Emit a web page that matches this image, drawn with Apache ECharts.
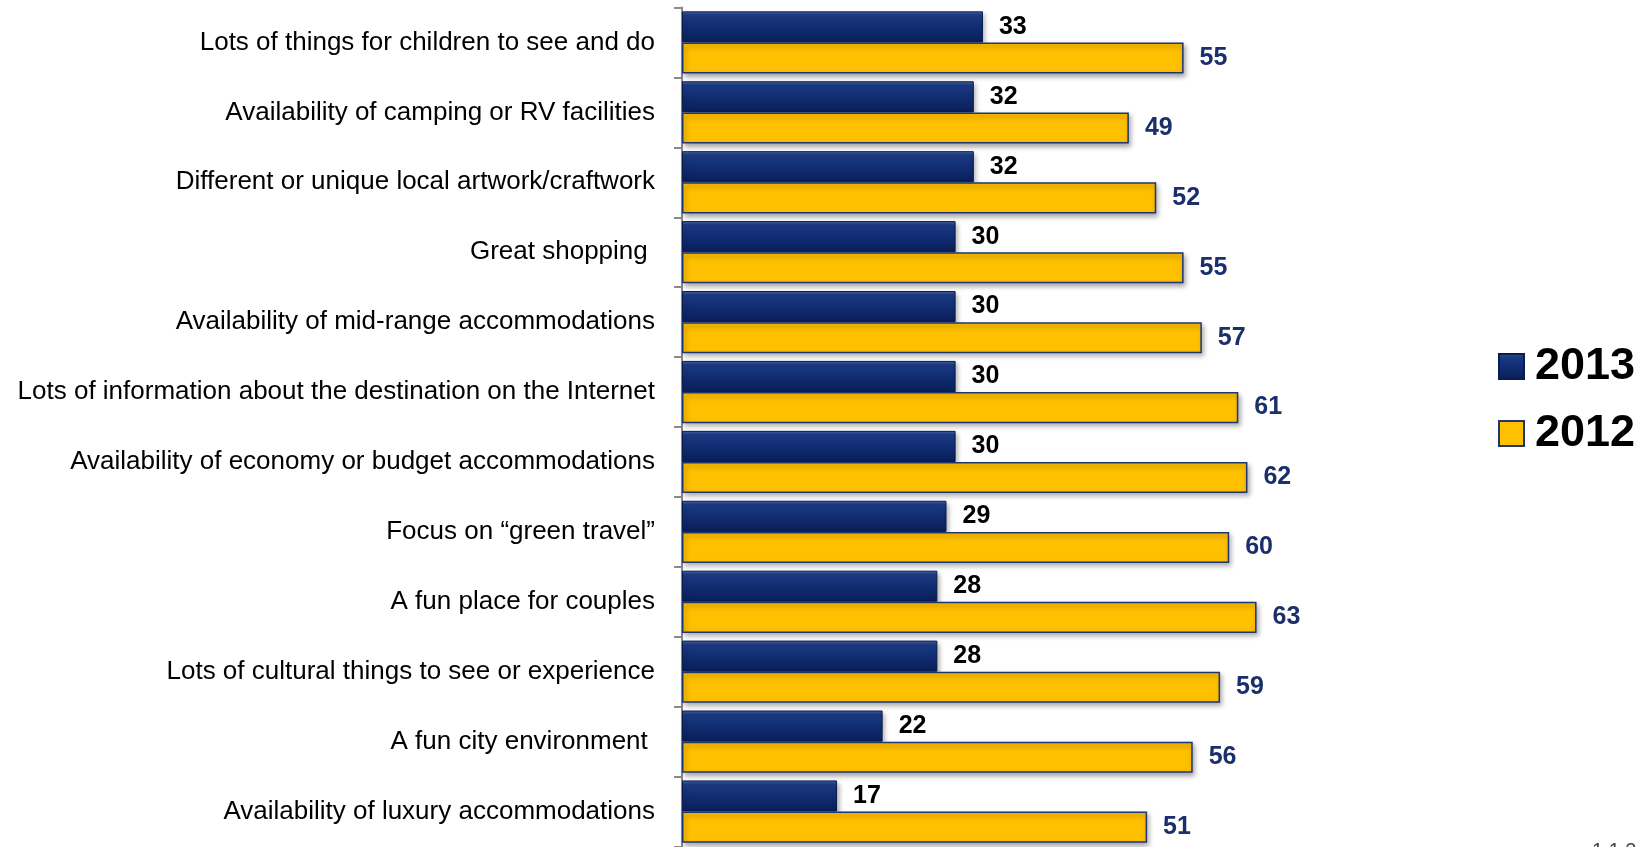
<!DOCTYPE html>
<html>
<head>
<meta charset="utf-8">
<script src="https://cdn.jsdelivr.net/npm/echarts@6/dist/echarts.min.js"></script>
<style>
  html, body { margin: 0; padding: 0; background: #fff; }
  #source { width: 1648px; height: 847px; }
</style>
</head>
<body>
<div id="source"></div>
<script>
var categories = [
  'Lots of things for children to see and do',
  'Availability of camping or RV facilities',
  'Different or unique local artwork/craftwork',
  'Great shopping ',
  'Availability of mid-range accommodations',
  'Lots of information about the destination on the Internet',
  'Availability of economy or budget accommodations',
  'Focus on \u201cgreen travel\u201d',
  'A fun place for couples',
  'Lots of cultural things to see or experience',
  'A fun city environment ',
  'Availability of luxury accommodations'
];
var values2013 = [33, 32, 32, 30, 30, 30, 30, 29, 28, 28, 22, 17];
var values2012 = [55, 49, 52, 55, 57, 61, 62, 60, 63, 59, 56, 51];

var dom = document.getElementById('source');
var myChart = echarts.init(dom, null, { renderer: 'canvas' });

var navyGradient = new echarts.graphic.LinearGradient(0, 0, 0, 1, [
  { offset: 0, color: '#4a68a8' },
  { offset: 0.12, color: '#1d3c86' },
  { offset: 0.5, color: '#112d72' },
  { offset: 1, color: '#0a1f58' }
]);

var option = {
  animation: false,
  grid: {
    left: 682,
    top: 7.5,
    height: 839,
    width: 912
  },
  legend: {
    orient: 'vertical',
    left: 1493,
    top: 339,
    itemWidth: 25,
    itemHeight: 25,
    itemGap: 22,
    icon: 'rect',
    textStyle: {
      fontFamily: 'Arial, "Liberation Sans", sans-serif',
      fontSize: 45,
      fontWeight: 'bold',
      color: '#000',
      padding: [0, 0, 0, 6]
    },
    data: ['2013', '2012']
  },
  xAxis: {
    type: 'value',
    min: 0,
    max: 100,
    show: false
  },
  yAxis: {
    type: 'category',
    inverse: true,
    data: categories,
    axisLine: { show: true, lineStyle: { color: '#8a8a8a', width: 2 } },
    axisTick: { show: true, length: 8, lineStyle: { color: '#8a8a8a', width: 2 } },
    axisLabel: {
      margin: 27,
      fontFamily: 'Arial, "Liberation Sans", sans-serif',
      fontSize: 26,
      color: '#000'
    }
  },
  series: [
    {
      name: '2013',
      type: 'bar',
      data: values2013,
      barGap: '0%',
      barCategoryGap: '11%',
      itemStyle: {
        color: navyGradient,
        borderColor: '#0a1d4e',
        borderWidth: 1,
        shadowColor: 'rgba(0,0,0,0.35)',
        shadowBlur: 5,
        shadowOffsetX: 2,
        shadowOffsetY: 3
      },
      label: {
        show: true,
        position: 'right',
        distance: 16,
        fontFamily: 'Arial, "Liberation Sans", sans-serif',
        fontSize: 25,
        fontWeight: 'bold',
        color: '#000'
      }
    },
    {
      name: '2012',
      type: 'bar',
      data: values2012,
      itemStyle: {
        color: '#ffc000',
        borderColor: '#1f3673',
        borderWidth: 1.5,
        shadowColor: 'rgba(0,0,0,0.35)',
        shadowBlur: 5,
        shadowOffsetX: 2,
        shadowOffsetY: 3
      },
      label: {
        show: true,
        position: 'right',
        distance: 16,
        fontFamily: 'Arial, "Liberation Sans", sans-serif',
        fontSize: 25,
        fontWeight: 'bold',
        color: '#1a2f6b'
      }
    }
  ],
  graphic: [
    {
      type: 'text',
      left: 1592,
      top: 841,
      style: {
        text: '1 1 2',
        fontFamily: 'Arial, sans-serif',
        fontSize: 20,
        fill: '#444'
      }
    }
  ]
};

myChart.setOption(option);
window.addEventListener('resize', myChart.resize);
</script>
</body>
</html>
